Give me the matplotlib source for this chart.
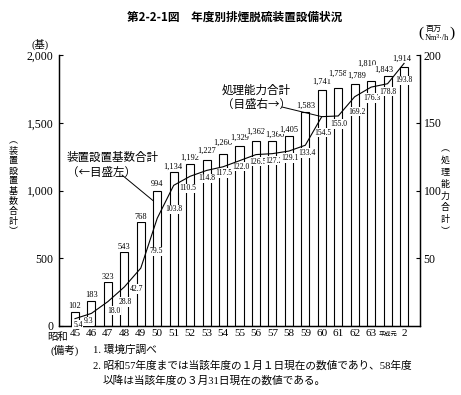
import matplotlib
matplotlib.use('Agg')
import matplotlib.pyplot as plt
import numpy as np

plt.rcParams['font.family'] = ['Liberation Serif', 'Noto Sans CJK JP']
CJK = ['Noto Sans CJK JP']

# ---- data ----
years = ['45', '46', '47', '48', '49', '50', '51', '52', '53', '54', '55',
         '56', '57', '58', '59', '60', '61', '62', '63', '平成元', '2']
units = [102, 183, 323, 543, 768, 994, 1134, 1192, 1227, 1266, 1329,
         1362, 1366, 1405, 1583, 1741, 1758, 1789, 1810, 1843, 1914]
capacity = [5.4, 9.3, 18.0, 28.8, 42.7, 79.5, 103.8, 110.5, 114.8, 117.5, 122.0,
            126.5, 127.2, 129.1, 133.4, 154.5, 155.0, 169.2, 176.3, 178.8, 193.8]
left_ticks = [0, 500, 1000, 1500, 2000]
right_ticks = [50, 100, 150, 200]

# label offsets in pixels (style only)
unit_lbl_off = [(0, 6.5), (0, 6), (0, 5.5), (0, 5.5), (0, 5), (0, 7), (-1, 6), (0, 6.5),
                (0, 9), (0, 12), (0, 8), (0, 10), (2, 6), (0, 6), (0, 6), (0, 8),
                (0, 14), (2, 8), (-4, 17), (-4, 6), (-2.5, 8)]
cap_lbl_off = [(3, -6), (-3, -8), (6, -9), (1, -15), (-4, -21), (-1, -33), (0, -24),
               (-2, -12), (0, -8), (1, -6), (1, -6), (2, -7), (2, -7), (1, -7), (2, -8),
               (1, -16), (1, -8), (2, -15), (1, -11), (0, -8), (0, -17)]

W, H = 461, 395
fig = plt.figure(figsize=(W / 100, H / 100), dpi=100)


def fx(px):
    return px / W


def fy(py):
    return 1 - py / H


ax = fig.add_axes([fx(59), fy(326), fx(420) - fx(59), fy(55) - fy(326)])
x = np.arange(len(years))
bw = 0.49
ax.bar(x, units, width=bw, color='white', edgecolor='black', linewidth=0.8, zorder=2)
ax.set_xlim(-0.97, 20.97)
ax.set_ylim(0, 2000)
ax.spines['top'].set_visible(False)
for s in ['left', 'right', 'bottom']:
    ax.spines[s].set_linewidth(0.9)
ax.set_yticks(left_ticks)
ax.set_yticklabels([f'{v:,}' for v in left_ticks])
ax.tick_params(axis='y', direction='in', length=3, width=0.8, labelsize=8.5, pad=4)
ax.set_xticks(x)
ax.set_xticklabels(years)
ax.tick_params(axis='x', length=0, labelsize=8, pad=2.5)
for lbl in ax.get_xticklabels():
    if lbl.get_text() == '平成元':
        lbl.set_fontsize(4.5)
        lbl.set_family(CJK)

for xi, v, (dx, dy) in zip(x, units, unit_lbl_off):
    ax.annotate(f'{v:,}', (xi, v), xytext=(dx, dy), textcoords='offset pixels',
                ha='center', va='center', fontsize=6, zorder=4,
                bbox=dict(boxstyle='square,pad=0.1', fc='white', ec='none'))

ax2 = ax.twinx()
ax2.set_ylim(0, 200)
ax2.spines['top'].set_visible(False)
for s in ['left', 'right', 'bottom']:
    ax2.spines[s].set_linewidth(0.9)
ax2.plot(x, capacity, color='black', lw=0.8, zorder=5)
ax2.set_yticks(right_ticks)
ax2.tick_params(axis='y', direction='in', length=3, width=0.8, labelsize=8.5, pad=2.5)

for xi, v, (dx, dy) in zip(x, capacity, cap_lbl_off):
    ax2.annotate(f'{v:.1f}', (xi, v), xytext=(dx, dy), textcoords='offset pixels',
                 ha='center', va='center', fontsize=5.5, zorder=4,
                 bbox=dict(boxstyle='square,pad=0.1', fc='white', ec='none'))

# series annotations with leader lines
fig.text(fx(222), fy(97), '処理能力合計\n（目盛右→）', fontsize=8.3, ha='left', va='center',
         linespacing=1.15, family=CJK)
ax2.annotate('', xy=(15, capacity[15]), xycoords='data',
             xytext=(fx(282), fy(107)), textcoords='figure fraction',
             arrowprops=dict(arrowstyle='-', lw=0.7, color='black', shrinkA=0, shrinkB=0))

fig.text(fx(67), fy(165), '装置設置基数合計\n（←目盛左）', fontsize=8.3, ha='left', va='center',
         linespacing=1.15, family=CJK)
ax.annotate('', xy=(5 - bw / 2, units[5] * 0.93), xycoords='data',
            xytext=(fx(122), fy(175)), textcoords='figure fraction',
            arrowprops=dict(arrowstyle='-', lw=0.7, color='black', shrinkA=0, shrinkB=0))

# title
fig.text(fx(235), fy(17), '第2-2-1図　年度別排煙脱硫装置設備状況', fontsize=8.4,
         fontweight='bold', ha='center', va='center', family=CJK)

# axis unit labels
fig.text(fx(40), fy(44), '(基)', fontsize=7.5, ha='center', va='center')
fig.text(fx(421), fy(33), '(', fontsize=11, ha='center', va='center')
fig.text(fx(452), fy(33), ')', fontsize=11, ha='center', va='center')
fig.text(fx(433), fy(28), '百万', fontsize=5.8, ha='center', va='center', family=CJK)
fig.text(fx(436.5), fy(38), 'Nm³·/h', fontsize=6, ha='center', va='center')

# vertical axis titles
fig.text(fx(13), fy(186), '\n'.join('︵装置設置基数合計︶'), fontsize=6.5, ha='center',
         va='center', linespacing=1.15, family=CJK)
fig.text(fx(445), fy(190), '\n'.join('︵処理能力合計︶'), fontsize=6.5, ha='center',
         va='center', linespacing=1.4, family=CJK)

# era prefix
fig.text(fx(57.5), fy(337), '昭和', fontsize=7.5, ha='center', va='center', family=CJK)

# notes
fig.text(fx(50), fy(350), '(備考)', fontsize=7.7, ha='left', va='center')
fig.text(fx(93), fy(350), '1. 環境庁調べ', fontsize=7.7, ha='left', va='center')
fig.text(fx(93), fy(366), '2. 昭和57年度までは当該年度の１月１日現在の数値であり、58年度',
         fontsize=7.7, ha='left', va='center')
fig.text(fx(103), fy(380), '以降は当該年度の３月31日現在の数値である。',
         fontsize=7.7, ha='left', va='center')

fig.savefig('out.png', dpi=100)
